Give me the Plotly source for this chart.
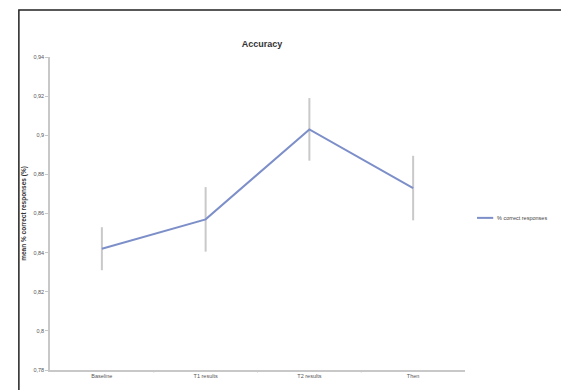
import plotly.graph_objects as go

# Accuracy over the four measurement points
phases = ["Baseline", "T1 results", "T2 results", "Then"]
pct_correct = [0.842, 0.857, 0.903, 0.873]
std_err = [0.011, 0.0165, 0.016, 0.0165]
series_name = "% correct responses"
line_color = "#7d8fc9"

y_ticks = [0.78, 0.80, 0.82, 0.84, 0.86, 0.88, 0.90, 0.92, 0.94]
y_tick_text = ["0,78", "0,8", "0,82", "0,84", "0,86", "0,88", "0,9", "0,92", "0,94"]

FONT = "Liberation Sans"

fig = go.Figure()
fig.add_trace(go.Scatter(
    x=list(range(len(phases))),
    y=pct_correct,
    mode="lines",
    name=series_name,
    showlegend=False,
    line=dict(color=line_color, width=2),
    error_y=dict(type="data", array=std_err, visible=True,
                 color="#c9c9c9", thickness=2, width=0),
))

fig.update_layout(
    width=561, height=390,
    margin=dict(l=50, r=96, t=57, b=20, autoexpand=False),
    paper_bgcolor="white", plot_bgcolor="white",
    font=dict(family=FONT, size=6, color="#555555"),
    title=dict(text="<b>Accuracy</b>", x=0.467, xanchor="center",
               y=0.888, yanchor="middle",
               font=dict(family=FONT, size=9, color="#333333")),
    xaxis=dict(
        range=[-0.5, 3.5],
        tickmode="array", tickvals=list(range(len(phases))), ticktext=phases,
        showgrid=False, zeroline=False,
        showline=True, linecolor="#c8c8c8", linewidth=1.5,
        ticks="", tickfont=dict(size=5.5, color="#555555"),
    ),
    yaxis=dict(
        range=[0.78, 0.94],
        tickmode="array", tickvals=y_ticks, ticktext=y_tick_text,
        showgrid=False, zeroline=False,
        showline=True, linecolor="#c8c8c8", linewidth=1.5,
        ticks="outside", ticklen=3, tickcolor="#c8c8c8",
        tickfont=dict(size=5.5, color="#555555"),
        title=dict(text="<b>mean % correct responses (%)</b>",
                   font=dict(size=6.5, color="#333333"), standoff=6),
    ),
)

# category boundary ticks on the x axis
for b in [0.5, 1.5, 2.5]:
    fig.add_shape(type="line", xref="x", yref="paper", x0=b, x1=b, y0=0, y1=-0.008,
                  line=dict(color="#c8c8c8", width=1))

# compact legend to the right of the plot
fig.add_shape(type="line", xref="paper", yref="paper",
              x0=1.029, x1=1.068, y0=0.486, y1=0.486,
              line=dict(color=line_color, width=2))
fig.add_annotation(text=series_name, xref="paper", yref="paper",
                   x=1.072, y=0.486, xanchor="left", yanchor="middle",
                   showarrow=False,
                   font=dict(family=FONT, size=5.5, color="#444444"))

# outer chart frame (left and top edges visible)
fig.add_shape(type="rect", xref="paper", yref="paper",
              x0=-0.075, x1=1.5, y0=-0.4, y1=1.15,
              line=dict(color="#222222", width=1.5), layer="below")

fig.write_html("out.html")
